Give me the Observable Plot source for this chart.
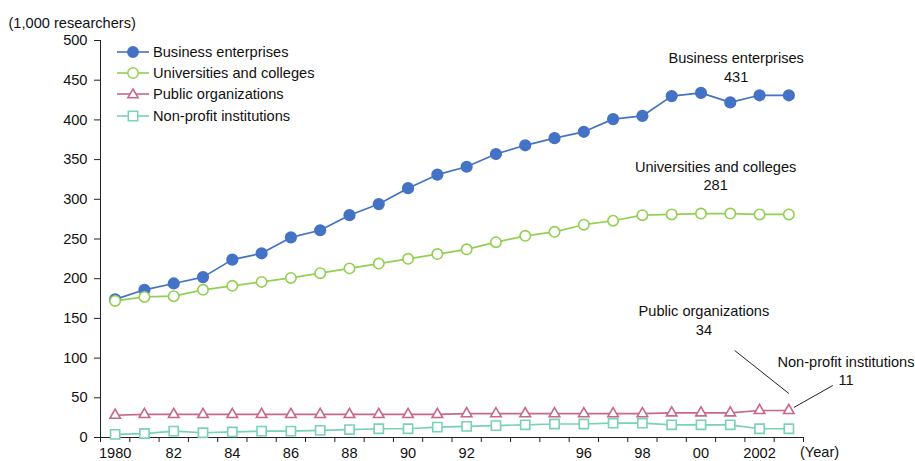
<!DOCTYPE html>
<html>
<head>
<meta charset="utf-8">
<script src="https://cdn.jsdelivr.net/npm/d3@7"></script>
<script src="https://cdn.jsdelivr.net/npm/@observablehq/plot@0.6"></script>
<style>
  body { margin: 0; background: #fff; }
  #wrap { position: relative; width: 915px; height: 461px; overflow: hidden; font-family: "Liberation Sans", Arial, sans-serif; }
  #legend { position: absolute; left: 117px; top: 41px; font-size: 14.6px; color: #111; }
  #legend .row { display: flex; align-items: center; height: 21.3px; }
  #legend svg { margin-right: 4px; }
</style>
</head>
<body>
<div id="wrap"></div>
<script>
const years = [1980,1981,1982,1983,1984,1985,1986,1987,1988,1989,1990,1991,1992,1993,1994,1995,1996,1997,1998,1999,2000,2001,2002,2003];
const business = [174,186,194,202,224,232,252,261,280,294,314,331,341,357,368,377,385,401,405,430,434,422,431,431];
const universities = [172,177,178,186,191,196,201,207,213,219,225,231,237,246,254,259,268,273,280,281,282,282,281,281];
const publicOrg = [28,29,29,29,29,29,29,29,29,29,29,29,30,30,30,30,30,30,30,31,31,31,34,34];
const nonProfit = [4,5,8,6,7,8,8,9,10,11,11,13,14,15,16,17,17,18,18,16,16,16,11,11];
const seriesNames = ["Business enterprises","Universities and colleges","Public organizations","Non-profit institutions"];
const seriesColors = ["#4472C4","#92D050","#C9668C","#77D3B2"];
const seriesSymbols = ["circle","circle","triangle","square"];
const seriesFill = ["#4472C4","white","white","white"];
const seriesR = [5.3,5.2,3.9,5.2];
const yTicks = [0,50,100,150,200,250,300,350,400,450,500];
const xTickYears = [1980,1982,1984,1986,1988,1990,1992,1996,1998,2000,2002];
const xTickLabels = ["1980","82","84","86","88","90","92","96","98","00","2002"];
const endLabels = ["Business enterprises\n431","Universities and colleges\n281","Public organizations\n34","Non-profit institutions\n11"];
const endLabelX = [2001.2, 2000.5, 2000.1, 2004.95];
const endLabelY = [467, 330, 148.5, 84.5];
const leaderX1 = [2001.15, 2004.5];
const leaderY1 = [109.6, 65.5];
const leaderX2 = [2003, 2003.17];
const leaderY2 = [55.4, 37.8];

const allSeries = [business, universities, publicOrg, nonProfit];
const rows = [];
allSeries.forEach((vals, i) => vals.forEach((v, j) => rows.push({series: seriesNames[i], idx: i, year: years[j], value: v})));
const boundaries = [years[0] - 0.5, ...years.map(y => y + 0.5)];
const labelMap = new Map(xTickYears.map((y, i) => [y, xTickLabels[i]]));
const annRows = endLabels.map((t, i) => ({t, x: endLabelX[i], y: endLabelY[i]}));
const leaders = leaderX1.map((x, i) => ({x1: x, y1: leaderY1[i], x2: leaderX2[i], y2: leaderY2[i]}));

const font = "Liberation Sans, Arial, sans-serif";
const FS = 14.6;
const plot = Plot.plot({
  width: 915,
  height: 461,
  marginLeft: 100,
  marginRight: 112,
  marginTop: 40,
  marginBottom: 24,
  style: {fontFamily: font, fontSize: FS + "px", color: "#111", background: "white", overflow: "visible"},
  x: {type: "linear", domain: [boundaries[0], boundaries[boundaries.length - 1]], axis: null},
  y: {type: "linear", domain: [0, 500], axis: null},
  marks: [
    Plot.axisY({ticks: yTicks, tickSize: 6, tickPadding: 7, label: null, stroke: "#222", fill: "#111", fontSize: FS}),
    Plot.axisX({ticks: boundaries, tickSize: 5, tickFormat: () => "", label: null, stroke: "#222"}),
    Plot.axisX({ticks: xTickYears, tickSize: 0, tickPadding: 10, tickFormat: d => labelMap.get(d), label: null, fill: "#111", fontSize: FS}),
    Plot.ruleX([boundaries[0]], {stroke: "#222"}),
    Plot.ruleY([0], {stroke: "#222"}),
    Plot.text(["(Year)"], {x: 2004.05, y: 0, dy: 15, fontSize: FS, fill: "#111", clip: false}),
    Plot.text(["(1,000 researchers)"], {frameAnchor: "top-left", dx: -92, dy: -23, textAnchor: "start", fontSize: FS, fill: "#111"}),
    ...allSeries.map((vals, i) => Plot.line(rows.filter(r => r.idx === i), {x: "year", y: "value", stroke: seriesColors[i], strokeWidth: 1.7})),
    ...allSeries.map((vals, i) => Plot.dot(rows.filter(r => r.idx === i), {x: "year", y: "value", symbol: seriesSymbols[i], r: seriesR[i], stroke: seriesColors[i], fill: seriesFill[i], strokeWidth: 1.6})),
    Plot.link(leaders, {x1: "x1", y1: "y1", x2: "x2", y2: "y2", stroke: "#222", strokeWidth: 1}),
    Plot.text(annRows, {x: "x", y: "y", text: "t", lineHeight: 1.25, fontSize: FS, fill: "#111", textAnchor: "middle"})
  ]
});
const wrap = document.getElementById("wrap");
wrap.appendChild(plot);

// legend overlay inside the plot area
const legend = document.createElement("div");
legend.id = "legend";
seriesNames.forEach((name, i) => {
  const row = document.createElement("div");
  row.className = "row";
  const sym = seriesSymbols[i];
  let shape;
  if (sym === "circle") shape = `<circle cx="16" cy="8" r="5.2" fill="${seriesFill[i]}" stroke="${seriesColors[i]}" stroke-width="1.5"/>`;
  else if (sym === "triangle") shape = `<path d="M16,3 L21.2,11.8 L10.8,11.8 Z" fill="white" stroke="${seriesColors[i]}" stroke-width="1.5"/>`;
  else shape = `<rect x="11.3" y="3.3" width="9.4" height="9.4" fill="white" stroke="${seriesColors[i]}" stroke-width="1.5"/>`;
  row.innerHTML = `<svg width="32" height="16"><line x1="0" y1="8" x2="32" y2="8" stroke="${seriesColors[i]}" stroke-width="1.6"/>${shape}</svg><span>${name}</span>`;
  legend.appendChild(row);
});
wrap.appendChild(legend);
</script>
</body>
</html>
